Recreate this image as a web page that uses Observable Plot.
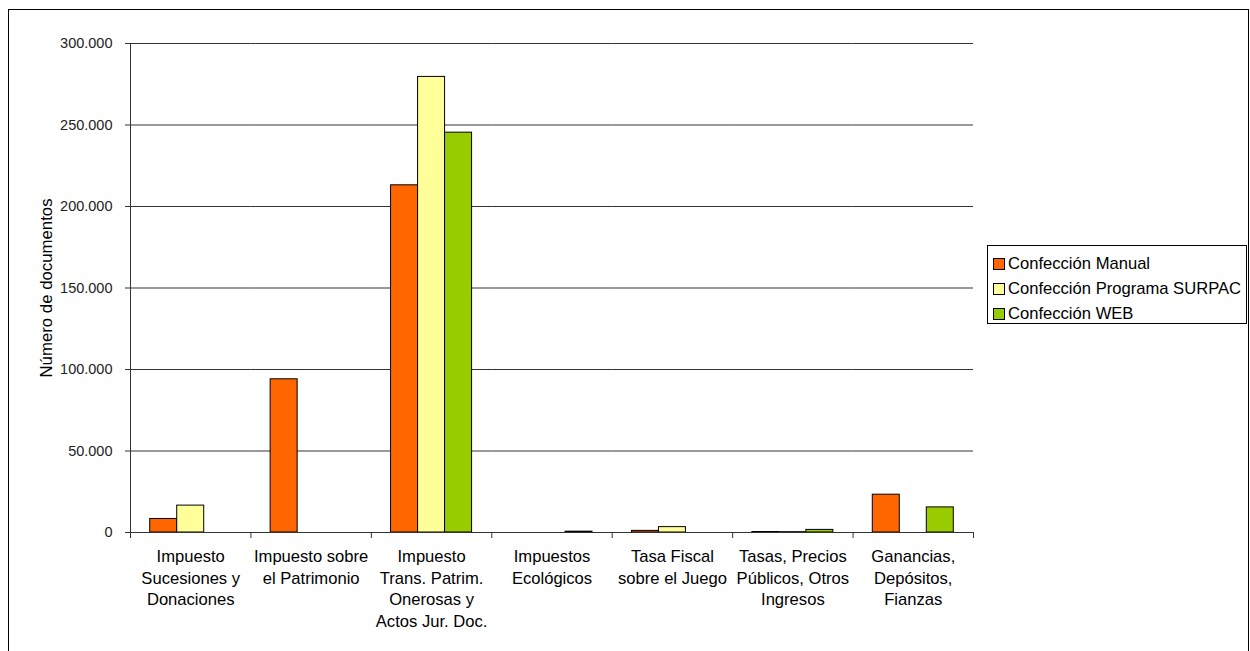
<!DOCTYPE html>
<html><head><meta charset="utf-8">
<script src="https://cdn.jsdelivr.net/npm/d3@7"></script>
<script src="https://cdn.jsdelivr.net/npm/@observablehq/plot@0.6"></script>
<style>
html,body{margin:0;padding:0;background:#fff;overflow:hidden;width:1250px;height:651px;}
#wrap{position:relative;width:1250px;height:651px;font-family:"Liberation Sans",Arial,sans-serif;}
#border{position:absolute;left:8px;top:9px;width:1241px;height:700px;border:1px solid #000;box-sizing:border-box;}
#chart{position:absolute;left:0;top:0;}
#legend{position:absolute;left:987px;top:245px;width:260px;height:79px;border:1px solid #000;box-sizing:border-box;background:#fff;padding-top:5px;}
.row{height:25px;line-height:25px;font-size:16.6px;color:#000;white-space:nowrap;position:relative;padding-left:20px;}
.sw{position:absolute;left:5px;top:7px;width:10px;height:10px;border:1px solid #000;}
</style></head>
<body><div id="wrap"><div id="border"></div><div id="chart"></div><div id="legend"></div></div>
<script>
const categories = [
  "Impuesto\nSucesiones y\nDonaciones",
  "Impuesto sobre\nel Patrimonio",
  "Impuesto\nTrans. Patrim.\nOnerosas y\nActos Jur. Doc.",
  "Impuestos\nEcológicos",
  "Tasa Fiscal\nsobre el Juego",
  "Tasas, Precios\nPúblicos, Otros\nIngresos",
  "Ganancias,\nDepósitos,\nFianzas"
];
const series = ["Confección Manual", "Confección Programa SURPAC", "Confección WEB"];
const colors = ["#FF6600", "#FFFF99", "#99CC00"];
const manual = [8300, 94000, 213000, 0, 1000, 300, 23200];
const surpac = [16500, 0, 279500, 0, 3300, 200, 0];
const web    = [0, 0, 245300, 500, 0, 1600, 15400];
const yTicks = [0, 50000, 100000, 150000, 200000, 250000, 300000];
const yLabel = "Número de documentos";

const valuesBySeries = [manual, surpac, web];
const data = categories.flatMap((c, i) =>
  series.map((s, j) => ({cat: c, serie: s, value: valuesBySeries[j][i]}))
).filter(d => d.value > 0);

const fmt = d3.formatLocale({decimal: ",", thousands: ".", grouping: [3], currency: ["", ""]}).format(",d");

const chart = Plot.plot({
  width: 1250, height: 651,
  marginTop: 43, marginBottom: 119, marginLeft: 130, marginRight: 277,
  style: {fontFamily: "'Liberation Sans', Arial, sans-serif", background: "transparent", color: "#000"},
  fx: {domain: categories, padding: 0, round: false, label: null, axis: null},
  x: {domain: series, paddingInner: 0, paddingOuter: 0.73, round: false, axis: null},
  y: {domain: [0, 300000], label: null, axis: null},
  color: {domain: series, range: colors},
  marks: [
    Plot.gridY(yTicks, {stroke: "#333", strokeOpacity: 1}),
    Plot.barY(data, {fx: "cat", x: "serie", y: "value", fill: "serie", stroke: "#000", strokeWidth: 1}),
    Plot.ruleY([0], {stroke: "#333"}),
    Plot.axisY(yTicks, {tickFormat: fmt, tickSize: 5, tickPadding: 13, fontSize: 14.5, stroke: "#333", fill: "#222", label: null}),
    Plot.text([yLabel], {frameAnchor: "left", textAnchor: "middle", rotate: -90, dx: -84, fontSize: 16.8, fill: "#000", facetAnchor: "left"}),
    Plot.axisFx({anchor: "bottom", tickSize: 0, tickPadding: 14, fontSize: 16.6, lineHeight: 1.31, fill: "#000", label: null}),
    Plot.frame({anchor: "left", facetAnchor: "left", stroke: "#333"}),
    Plot.frame({anchor: "left", insetTop: 489, insetBottom: -5, stroke: "#333"}),
    Plot.frame({anchor: "right", facetAnchor: "right", insetTop: 489, insetBottom: -5, stroke: "#333"})
  ]
});
document.getElementById("chart").appendChild(chart);

const legend = document.getElementById("legend");
series.forEach((s, i) => {
  const row = document.createElement("div");
  row.className = "row";
  const sw = document.createElement("span");
  sw.className = "sw";
  sw.style.background = colors[i];
  row.appendChild(sw);
  row.appendChild(document.createTextNode(s));
  legend.appendChild(row);
});
</script></body></html>
